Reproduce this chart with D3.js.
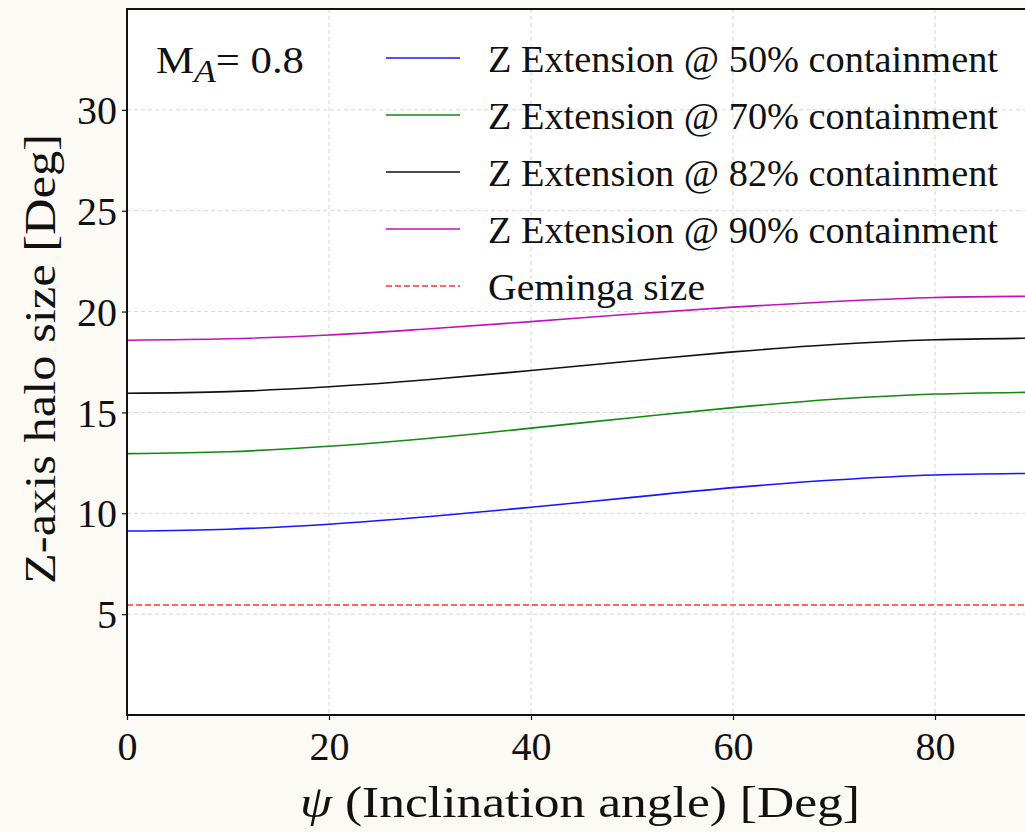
<!DOCTYPE html>
<html>
<head>
<meta charset="utf-8">
<script src="https://cdn.jsdelivr.net/npm/d3@7"></script>
<style>
  html, body { margin: 0; padding: 0; background: #fcfaf5; }
  svg { display: block; }
  text { font-family: "Liberation Serif", "DejaVu Serif", serif; fill: #111; }
</style>
</head>
<body>
<svg id="chart" width="1025" height="832"></svg>
<script>
// Inclination angle samples (degrees)
const psi = [0, 10, 20, 30, 40, 50, 60, 70, 80, 90];

// Z-axis halo extension for each containment fraction (degrees)
const z50 = [9.12, 9.21, 9.46, 9.84, 10.30, 10.79, 11.27, 11.65, 11.90, 11.98];
const z70 = [12.96, 13.05, 13.32, 13.72, 14.22, 14.74, 15.24, 15.65, 15.91, 16.00];
const z82 = [15.95, 16.03, 16.27, 16.63, 17.08, 17.55, 18.00, 18.37, 18.60, 18.68];
const z90 = [18.58, 18.65, 18.84, 19.15, 19.50, 19.88, 20.22, 20.50, 20.70, 20.76];
const gemingaSize = 5.45;

const xTicks = [0, 20, 40, 60, 80];
const yTicks = [5, 10, 15, 20, 25, 30];

const seriesNames = [
  "Z Extension @ 50% containment",
  "Z Extension @ 70% containment",
  "Z Extension @ 82% containment",
  "Z Extension @ 90% containment"
];
const seriesValues = [z50, z70, z82, z90];
const seriesColors = ["#1515ff", "#108a10", "#111111", "#c010c0"];
const gemingaLabel = "Geminga size";
const gemingaColor = "#ff3030";

const svg = d3.select("#chart");
const plot = { left: 127, top: 9, right: 1036, bottom: 715 };

const x = d3.scaleLinear().domain([0, 90]).range([plot.left, plot.right]);
const y = d3.scaleLinear().domain([0, 35]).range([plot.bottom, plot.top]);

// plot background
svg.append("rect")
  .attr("x", plot.left).attr("y", plot.top)
  .attr("width", plot.right - plot.left).attr("height", plot.bottom - plot.top)
  .attr("fill", "#ffffff");

// dashed grid
const grid = svg.append("g").attr("stroke", "#d6d6d6").attr("stroke-width", 1)
  .attr("stroke-dasharray", "4,3");
grid.selectAll(".gx").data(xTicks.filter(d => d > 0)).join("line")
  .attr("x1", d => x(d)).attr("x2", d => x(d))
  .attr("y1", plot.top).attr("y2", plot.bottom);
grid.selectAll(".gy").data(yTicks).join("line")
  .attr("x1", plot.left).attr("x2", plot.right)
  .attr("y1", d => y(d)).attr("y2", d => y(d));

// series lines
const line = d3.line()
  .x((d, i) => x(psi[i]))
  .y(d => y(d))
  .curve(d3.curveMonotoneX);

svg.append("g").selectAll("path").data(seriesValues).join("path")
  .attr("d", d => line(d))
  .attr("fill", "none")
  .attr("stroke", (d, i) => seriesColors[i])
  .attr("stroke-width", 1.6);

// Geminga reference size
svg.append("line")
  .attr("x1", x(0)).attr("x2", x(90))
  .attr("y1", y(gemingaSize)).attr("y2", y(gemingaSize))
  .attr("stroke", gemingaColor).attr("stroke-width", 1.6)
  .attr("stroke-dasharray", "6,3");

// axes
const xAxis = d3.axisBottom(x).tickValues(xTicks).tickSize(5).tickPadding(8)
  .tickFormat(d3.format("d"));
const yAxis = d3.axisLeft(y).tickValues(yTicks).tickSize(5).tickPadding(5)
  .tickFormat(d3.format("d"));

const gx = svg.append("g").attr("transform", `translate(0,${plot.bottom})`).call(xAxis);
const gy = svg.append("g").attr("transform", `translate(${plot.left},0)`).call(yAxis);
[gx, gy].forEach(g => {
  g.select(".domain").remove();
  g.selectAll(".tick line").attr("stroke", "#111").attr("stroke-width", 1.2);
  g.selectAll(".tick text").attr("font-size", 40).attr("fill", "#111")
    .style("font-family", '"Liberation Serif", serif');
});
gx.selectAll(".tick text").attr("y", 45).attr("dy", null);
gy.selectAll(".tick text").attr("dy", "0.34em");

// frame
svg.append("rect")
  .attr("x", plot.left).attr("y", plot.top)
  .attr("width", plot.right - plot.left).attr("height", plot.bottom - plot.top)
  .attr("fill", "none").attr("stroke", "#111").attr("stroke-width", 2);

// axis titles
const xTitle = svg.append("text")
  .attr("x", 300).attr("y", 817)
  .attr("font-size", 45)
  .attr("textLength", 560).attr("lengthAdjust", "spacingAndGlyphs");
xTitle.append("tspan").attr("font-style", "italic").text("ψ");
xTitle.append("tspan").text(" (Inclination angle) [Deg]");

svg.append("text")
  .attr("transform", `translate(55,359) rotate(-90)`)
  .attr("text-anchor", "middle").attr("font-size", 45)
  .attr("textLength", 450).attr("lengthAdjust", "spacingAndGlyphs")
  .text("Z-axis halo size [Deg]");

// Alfvénic Mach number annotation
const ma = svg.append("text").attr("x", 156).attr("y", 73).attr("font-size", 37)
  .attr("textLength", 148).attr("lengthAdjust", "spacingAndGlyphs");
ma.append("tspan").text("M");
ma.append("tspan").attr("font-style", "italic").attr("font-size", 31).attr("dy", 9).text("A");
ma.append("tspan").attr("dy", -9).text("= 0.8");

// legend
const legendItems = seriesNames.map((n, i) => ({ name: n, color: seriesColors[i], dash: null, w: 510 }))
  .concat([{ name: gemingaLabel, color: gemingaColor, dash: "6,3", w: 217 }]);
const legend = svg.append("g");
const rows = legend.selectAll("g").data(legendItems).join("g")
  .attr("transform", (d, i) => `translate(386,${58 + i * 57})`);
rows.append("line")
  .attr("x1", 0).attr("x2", 74).attr("y1", 0).attr("y2", 0)
  .attr("stroke", d => d.color).attr("stroke-width", 1.6)
  .attr("stroke-dasharray", d => d.dash);
rows.append("text")
  .attr("x", 102).attr("y", 14).attr("font-size", 37)
  .attr("textLength", d => d.w).attr("lengthAdjust", "spacingAndGlyphs")
  .text(d => d.name);
</script>
</body>
</html>
